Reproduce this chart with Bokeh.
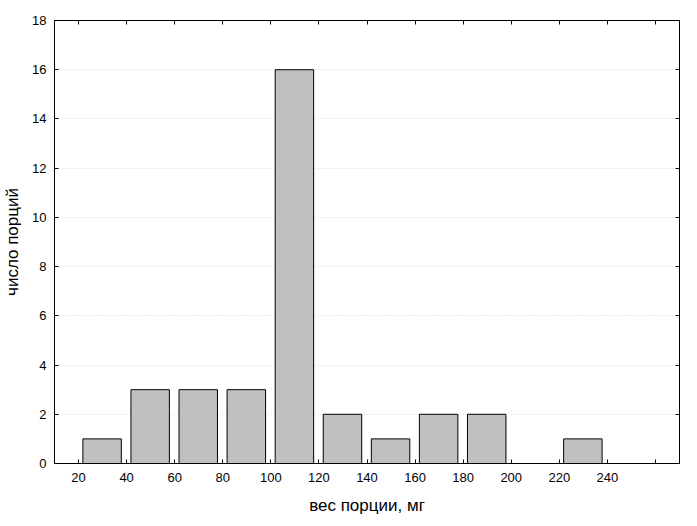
from bokeh.plotting import figure
from bokeh.models import LinearAxis, FixedTicker, Range1d, ColumnDataSource
from bokeh.embed import file_html
from bokeh.resources import INLINE

bin_start = [20, 40, 60, 80, 100, 120, 140, 160, 180, 200, 220]
counts = [1, 3, 3, 3, 16, 2, 1, 2, 2, 0, 1]
x_ticks = [20, 40, 60, 80, 100, 120, 140, 160, 180, 200, 220, 240, 260]
y_ticks = [0, 2, 4, 6, 8, 10, 12, 14, 16, 18]
x_label = "вес порции, мг"
y_label = "число порций"

bin_w = 20
src = ColumnDataSource(dict(x=[b + bin_w / 2 - 0.2 for b in bin_start], top=counts))

FONT = "Liberation Sans"
p = figure(width=681, height=517, output_backend="svg", toolbar_location=None,
           x_range=Range1d(10, 270), y_range=Range1d(0, 18),
           min_border_left=0, min_border_right=2, min_border_top=20, min_border_bottom=0)
p.vbar(x="x", top="top", width=16, source=src, fill_color="#c0c0c0",
       line_color="black", line_width=1)

p.outline_line_color = "black"
p.outline_line_width = 1
p.xgrid.visible = False
p.ygrid.ticker = FixedTicker(ticks=y_ticks)
p.ygrid.grid_line_color = "#d8d8d8"
p.ygrid.grid_line_dash = "1 2"

labels_x = {t: (str(t) if t <= 240 else "") for t in x_ticks}

def style(ax, ticks, show):
    ax.ticker = FixedTicker(ticks=ticks)
    ax.major_tick_in = 4
    ax.major_tick_out = 0
    ax.minor_tick_in = 0
    ax.minor_tick_out = 0
    ax.axis_line_color = "black"
    ax.major_tick_line_color = "black"
    ax.major_label_text_font = FONT
    ax.major_label_text_font_size = "13px"
    ax.major_label_text_color = "black"
    ax.axis_label_text_font = FONT
    ax.axis_label_text_font_size = "17px"
    ax.axis_label_text_font_style = "normal"
    ax.axis_label_text_color = "black"
    if not show:
        ax.major_label_text_font_size = "0px"
        ax.major_label_text_color = None

xa = p.xaxis[0]
style(xa, x_ticks, True)
xa.major_label_overrides = labels_x
xa.axis_label = x_label
xa.major_label_standoff = 9
xa.axis_label_standoff = 11

ya = p.yaxis[0]
style(ya, y_ticks, True)
ya.axis_label = y_label
ya.major_label_standoff = 8
ya.axis_label_standoff = 7

top = LinearAxis()
style(top, x_ticks, False)
p.add_layout(top, "above")
right = LinearAxis()
style(right, y_ticks, False)
p.add_layout(right, "right")

open("out.html", "w").write(file_html(p, INLINE))
